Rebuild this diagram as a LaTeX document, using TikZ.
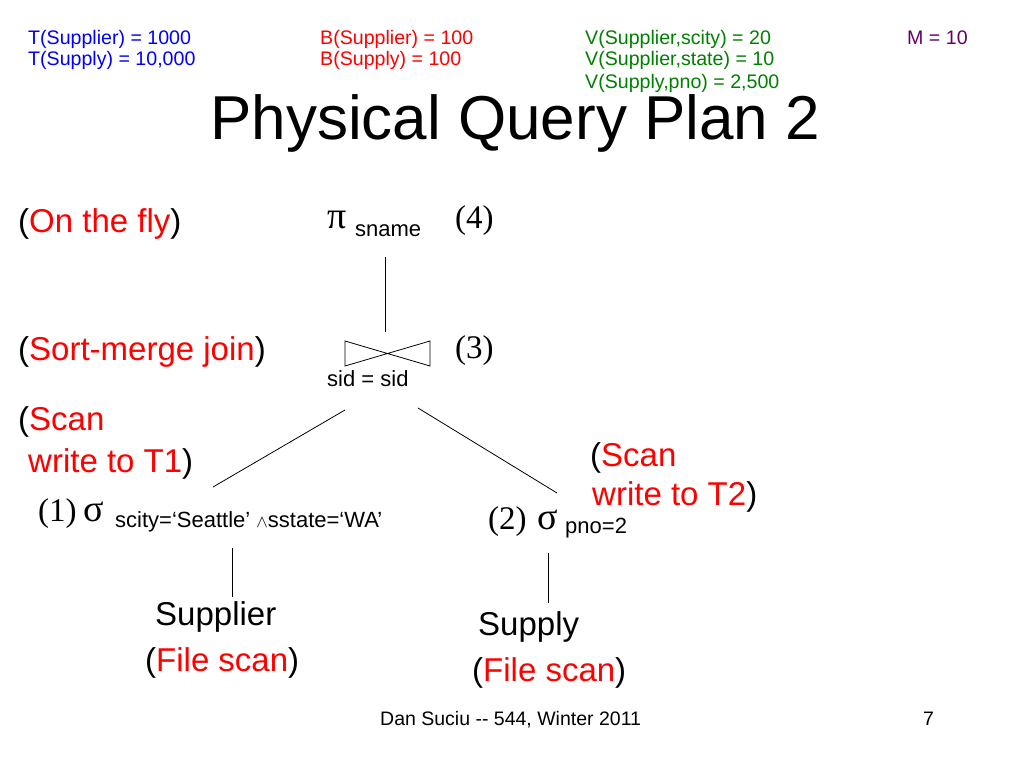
\documentclass[tikz,border=0pt]{standalone}
\usepackage{fontspec}
\setmainfont{Liberation Sans}
\newfontfamily\tms{Liberation Serif}
\newcommand\fsz[1]{\fontsize{#1}{#1}\selectfont}
\definecolor{tblue}{RGB}{0,0,255}
\definecolor{tred}{RGB}{255,0,0}
\definecolor{tgreen}{RGB}{0,128,0}
\definecolor{tpurple}{RGB}{102,0,102}
\begin{document}
\begin{tikzpicture}[x=1pt,y=-1pt,
  every node/.style={inner sep=0pt, anchor=base west},
  stat/.style={font=\fsz{19.6}},
  lbl/.style={font=\fsz{33}},
  num/.style={font=\tms\fsz{33}},
  greek/.style={font=\tms\fsz{38}},
  sub/.style={font=\fsz{22}},
  edge/.style={line width=0.8pt}]
\useasboundingbox[fill=white] (0,0) rectangle (1024,768);
% statistics
\node[stat, text=tblue] (t1) at (28,45) {T(Supplier) = 1000};
\node[stat, text=tblue] (t2) at (28,66) {T(Supply) = 10,000};
\node[stat, text=tred] (b1) at (320,45) {B(Supplier) = 100};
\node[stat, text=tred] (b2) at (320,66) {B(Supply) = 100};
\node[stat, text=tgreen] (v1) at (585,45) {V(Supplier,scity) = 20};
\node[stat, text=tgreen] (v2) at (585,66) {V(Supplier,state) = 10};
\node[stat, text=tgreen] (v3) at (585,88) {V(Supply,pno) = 2,500};
\node[stat, text=tpurple] (m) at (907,45) {M = 10};
% title
\node[font=\fsz{62}] (title) at (210,139) {Physical Query Plan 2};
% left annotations
\node[lbl] (fly) at (18,232) {(\textcolor{tred}{On the fly})};
\node[lbl] (smj) at (18,360) {(\textcolor{tred}{Sort-merge join})};
\node[lbl] (scan1) at (18,430) {(\textcolor{tred}{Scan}};
\node[lbl] (wr1) at (28,472) {\textcolor{tred}{write to T1})};
\node[lbl] (scan2) at (590,466) {(\textcolor{tred}{Scan}};
\node[lbl] (wr2) at (592,505) {\textcolor{tred}{write to T2})};
% projection
\node[greek] (pi) at (327,228) {π};
\node[sub] (sname) at (355,236) {sname};
\node[num] (n4) at (455,228) {(4)};
% join
\node[num] (n3) at (455,358) {(3)};
\node[sub] (sid) at (327,386) {sid = sid};
\draw[edge] (345,341) -- (430,366) -- (430,341) -- (345,366) -- cycle;
% selections
\node[num] (n1) at (38,521) {(1)};
\node[greek] (sig1) at (83,521) {σ};
\node[sub] (cond1) at (115,527) {scity=‘Seattle’ {\fsz{16}$\wedge$}sstate=‘WA’};
\node[num] (n2) at (488,529) {(2)};
\node[greek] (sig2) at (537,529) {σ};
\node[sub] (cond2) at (565,533) {pno=2};
% relations
\node[lbl] (supplier) at (155,625) {Supplier};
\node[lbl] (fs1) at (145,671) {(\textcolor{tred}{File scan})};
\node[lbl] (supply) at (478,635) {Supply};
\node[lbl] (fs2) at (472,681) {(\textcolor{tred}{File scan})};
% footer
\node[font=\fsz{19.5}] (foot) at (380,725) {Dan Suciu -{}- 544, Winter 2011};
\node[font=\fsz{19.5}] (page) at (923,725) {7};
% connectors
\coordinate (pbot) at (385,257);
\coordinate (jtop) at (385,332);
\coordinate (jl) at (345,410);
\coordinate (jr) at (418,408);
\coordinate (s1top) at (213,487);
\coordinate (s2top) at (557,493);
\coordinate (s1bot) at (232,548);
\coordinate (r1top) at (232,597);
\coordinate (s2bot) at (548,553);
\coordinate (r2top) at (548,603);
\draw[edge] (pbot) -- (jtop);
\draw[edge] (jl) -- (s1top);
\draw[edge] (jr) -- (s2top);
\draw[edge] (s1bot) -- (r1top);
\draw[edge] (s2bot) -- (r2top);
\end{tikzpicture}
\end{document}
